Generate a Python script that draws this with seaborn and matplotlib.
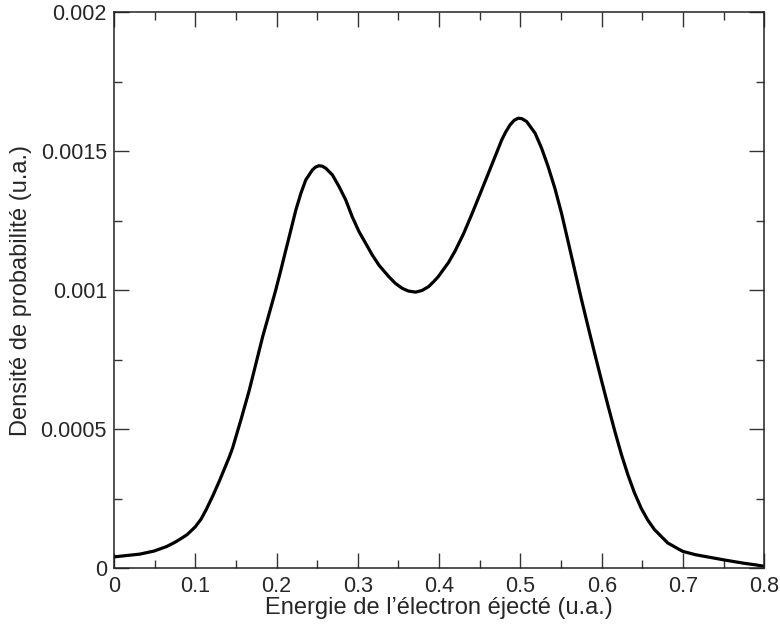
import numpy as np
import pandas as pd
import seaborn as sns
import matplotlib.pyplot as plt
from matplotlib.ticker import MultipleLocator

# energie de l'electron (u.a.) et densite de probabilite
energie = [0, 0.0319, 0.0494, 0.0646, 0.0747, 0.081, 0.09, 0.1, 0.107, 0.1135,
           0.1217, 0.13, 0.142, 0.146, 0.1564, 0.1666, 0.1748, 0.183, 0.1911, 0.199,
           0.2054, 0.2115, 0.2177, 0.2238, 0.23, 0.236, 0.2442, 0.248, 0.2524, 0.2565,
           0.2606, 0.2687, 0.2769, 0.2851, 0.293, 0.3014, 0.3096, 0.3177, 0.326, 0.338,
           0.346, 0.3544, 0.362, 0.371, 0.379, 0.3871, 0.393, 0.399, 0.4116, 0.4198,
           0.43, 0.44, 0.4504, 0.4606, 0.4688, 0.477, 0.482, 0.4872, 0.4925, 0.4974,
           0.502, 0.5076, 0.518, 0.526, 0.534, 0.5423, 0.5505, 0.5586, 0.5668, 0.575,
           0.5832, 0.5913, 0.5995, 0.6077, 0.6159, 0.624, 0.6322, 0.640, 0.6485, 0.6567,
           0.6649, 0.6812, 0.6995, 0.715, 0.73, 0.7506, 0.775, 0.79, 0.8]
densite = [0.00004, 0.00005, 0.000061, 0.000077, 0.000092, 0.000103, 0.00012, 0.000148, 0.000175, 0.00021,
           0.00026, 0.000315, 0.0004, 0.000432, 0.000535, 0.000641, 0.000737, 0.000833, 0.000917, 0.001,
           0.001073, 0.001145, 0.001217, 0.001289, 0.001349, 0.001397, 0.001433, 0.001443, 0.001448, 0.001446,
           0.001439, 0.001415, 0.001373, 0.001325, 0.001265, 0.001211, 0.001169, 0.001127, 0.00109, 0.001049,
           0.001025, 0.001007, 0.000997, 0.000993, 0.000999, 0.001013, 0.00103, 0.001049, 0.0011, 0.001142,
           0.001203, 0.001272, 0.001347, 0.001421, 0.001481, 0.001541, 0.00157, 0.001595, 0.001612, 0.001619,
           0.001617, 0.001607, 0.001565, 0.001511, 0.001445, 0.001367, 0.001277, 0.001175, 0.001071, 0.000967,
           0.000868, 0.000772, 0.000677, 0.000584, 0.000494, 0.00041, 0.000335, 0.000272, 0.000215, 0.000172,
           0.000138, 0.00009, 0.00006, 0.000048, 0.00004, 0.000029, 0.000017, 0.000011, 0.000006]

xticks = [0, 0.1, 0.2, 0.3, 0.4, 0.5, 0.6, 0.7, 0.8]
xticklabels = ["0", "0.1", "0.2", "0.3", "0.4", "0.5", "0.6", "0.7", "0.8"]
yticks = [0, 0.0005, 0.001, 0.0015, 0.002]
yticklabels = ["0", "0.0005", "0.001", "0.0015", "0.002"]

df = pd.DataFrame({"E": energie, "P": densite})

sns.set_theme(style="ticks")
plt.rcParams['font.family'] = ['Liberation Sans', 'DejaVu Sans']

fig = plt.figure(figsize=(7.8, 6.3), dpi=100)
ax = fig.add_axes([0.146, 0.0984, 0.834, 0.882])

sns.lineplot(data=df, x="E", y="P", color="black", linewidth=2.3, ax=ax)

ax.set_xlim(0, 0.8)
ax.set_ylim(0, 0.002)
ax.set_xticks(xticks)
ax.set_xticklabels(xticklabels)
ax.set_yticks(yticks)
ax.set_yticklabels(yticklabels)
ax.xaxis.set_minor_locator(MultipleLocator(0.05))
ax.yaxis.set_minor_locator(MultipleLocator(0.00025))

ax.tick_params(which="both", direction="in", top=True, right=True,
               labeltop=False, labelright=False, color="#333333", width=1)
ax.tick_params(which="major", length=11, labelsize=15.5)
ax.tick_params(axis="x", which="major", pad=6)
ax.tick_params(axis="y", which="major", pad=5)
ax.tick_params(which="minor", length=5.5)
for s in ax.spines.values():
    s.set_linewidth(1.1)
    s.set_color("#222222")

ax.set_xlabel("Energie de l\u2019électron éjecté (u.a.)", fontsize=17, labelpad=0)
ax.set_ylabel("Densité de probabilité (u.a.)", fontsize=17, labelpad=6)

fig.savefig("out.png", dpi=100)
